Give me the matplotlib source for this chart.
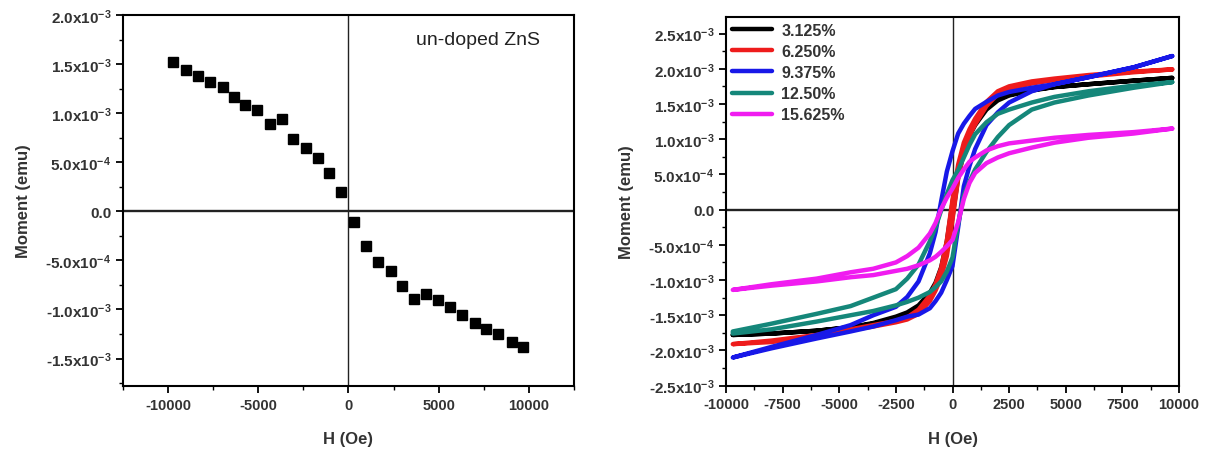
import numpy as np
import matplotlib
matplotlib.use("Agg")
import matplotlib.pyplot as plt
from matplotlib.ticker import MultipleLocator, FuncFormatter

plt.rcParams['font.family'] = ['Liberation Sans', 'DejaVu Sans']
plt.rcParams['font.weight'] = 'bold'
plt.rcParams['mathtext.default'] = 'regular'
plt.rcParams['axes.unicode_minus'] = False

# ---------------- data: un-doped ZnS (left panel) ----------------
undoped_H = [-9740, -8980, -8330, -7690, -6970, -6320, -5710, -5060, -4340, -3680,
             -3070, -2350, -1680, -1070, -390, 330, 1000, 1650, 2350, 2990,
             3620, 4310, 4990, 5640, 6280, 7000, 7650, 8300, 9040, 9680]
undoped_M = [1.523, 1.435, 1.377, 1.319, 1.265, 1.166, 1.085, 1.027, 0.891, 0.939,
             0.741, 0.646, 0.547, 0.388, 0.194, -0.109, -0.351, -0.514, -0.612, -0.765,
             -0.895, -0.844, -0.902, -0.980, -1.058, -1.140, -1.198, -1.252, -1.327, -1.378]  # x1e-3 emu

# ---------------- data: doped samples (right panel) ----------------
H_grid = [-9700, -8000, -6000, -4500, -3500, -2500, -2000, -1500, -1000, -750, -500, -250,
          0, 250, 500, 750, 1000, 1500, 2000, 2500, 3500, 4500, 6000, 8000, 9700]

labels = ['3.125%', '6.250%', '9.375%', '12.50%', '15.625%']
colors = ['#000000', '#ee1c1c', '#1818e8', '#15877a', '#f01cf0']

# descending branch (field swept from +max to -max), listed on H_grid order, x1e-3 emu
black_desc = [-1.78, -1.76, -1.72, -1.67, -1.61, -1.52, -1.46, -1.36, -1.18, -1.04, -0.82, -0.45,
              0.10, 0.58, 0.90, 1.10, 1.25, 1.46, 1.57, 1.63, 1.70, 1.74, 1.78, 1.83, 1.87]
black_asc = [-1.78, -1.76, -1.72, -1.67, -1.62, -1.54, -1.48, -1.38, -1.22, -1.08, -0.88, -0.56,
             -0.10, 0.46, 0.82, 1.05, 1.20, 1.42, 1.55, 1.62, 1.69, 1.74, 1.78, 1.83, 1.87]

red_desc = [-1.91, -1.86, -1.78, -1.70, -1.64, -1.58, -1.53, -1.42, -1.22, -1.06, -0.83, -0.44,
            0.14, 0.64, 0.95, 1.14, 1.29, 1.53, 1.68, 1.75, 1.82, 1.86, 1.91, 1.96, 1.99]
red_asc = [-1.91, -1.88, -1.80, -1.71, -1.66, -1.60, -1.56, -1.48, -1.30, -1.15, -0.96, -0.66,
           -0.14, 0.44, 0.82, 1.05, 1.21, 1.47, 1.64, 1.72, 1.79, 1.84, 1.89, 1.95, 1.99]

blue_desc = [-2.10, -1.95, -1.78, -1.64, -1.50, -1.38, -1.24, -1.02, -0.62, -0.32, 0.12, 0.54,
             0.83, 1.08, 1.22, 1.33, 1.43, 1.53, 1.62, 1.67, 1.73, 1.78, 1.88, 2.02, 2.18]
blue_asc = [-2.10, -1.97, -1.83, -1.73, -1.66, -1.57, -1.52, -1.49, -1.40, -1.30, -1.18, -1.00,
            -0.80, -0.25, 0.33, 0.62, 0.86, 1.20, 1.38, 1.52, 1.68, 1.78, 1.88, 2.02, 2.18]

teal_desc = [-1.73, -1.62, -1.48, -1.37, -1.25, -1.13, -0.98, -0.78, -0.45, -0.25, -0.01, 0.22,
             0.42, 0.56, 0.74, 0.92, 1.07, 1.24, 1.36, 1.42, 1.52, 1.60, 1.68, 1.76, 1.81]
teal_asc = [-1.76, -1.70, -1.59, -1.50, -1.44, -1.36, -1.31, -1.25, -1.17, -1.10, -1.02, -0.88,
            -0.68, -0.20, 0.20, 0.40, 0.57, 0.82, 1.03, 1.20, 1.42, 1.52, 1.62, 1.73, 1.81]

mag_desc = [-1.14, -1.06, -0.98, -0.89, -0.84, -0.75, -0.66, -0.54, -0.34, -0.19, 0.01, 0.17,
            0.30, 0.45, 0.57, 0.68, 0.74, 0.84, 0.90, 0.94, 0.98, 1.02, 1.06, 1.10, 1.15]
mag_asc = [-1.14, -1.08, -1.02, -0.96, -0.93, -0.87, -0.84, -0.79, -0.72, -0.67, -0.60, -0.52,
           -0.43, -0.18, 0.15, 0.38, 0.52, 0.66, 0.74, 0.80, 0.88, 0.95, 1.02, 1.08, 1.15]

desc_branches = [black_desc, red_desc, blue_desc, teal_desc, mag_desc]
asc_branches = [black_asc, red_asc, blue_asc, teal_asc, mag_asc]

left_yticks = [-1.5e-3, -1.0e-3, -5e-4, 0.0, 5e-4, 1.0e-3, 1.5e-3, 2.0e-3]
right_yticks = [-2.5e-3, -2.0e-3, -1.5e-3, -1.0e-3, -5e-4, 0.0, 5e-4, 1.0e-3, 1.5e-3, 2.0e-3, 2.5e-3]


def sci_fmt(v, pos=None):
    if abs(v) < 1e-12:
        return '0.0'
    e = int(np.floor(np.log10(abs(v)) + 1e-9))
    m = v / 10 ** e
    return '%.1fx10$^{%d}$' % (m, e)


fig = plt.figure(figsize=(12.08, 4.52), dpi=100)
ax1 = fig.add_axes([0.1018, 0.1438, 0.3733, 0.8208])
ax2 = fig.add_axes([0.6010, 0.1445, 0.3750, 0.8150])

for ax in (ax1, ax2):
    for sp in ax.spines.values():
        sp.set_linewidth(1.5)
    ax.axhline(0, color='#222222', lw=1.7, zorder=1)
    ax.axvline(0, color='#222222', lw=1.0, zorder=1)
    ax.tick_params(which='major', direction='out', length=5, width=1.3)
    ax.tick_params(which='minor', direction='out', length=3, width=1.0)
    ax.tick_params(axis='x', labelsize=10.5)
    ax.tick_params(axis='y', labelsize=11)
    ax.yaxis.set_major_formatter(FuncFormatter(sci_fmt))
    ax.set_xlabel('H (Oe)', fontsize=12, fontweight='bold', color='#333333', labelpad=14)
    ax.set_ylabel('Moment (emu)', fontsize=12, fontweight='bold', color='#333333', labelpad=10)

# left panel
ax1.plot(np.array(undoped_H), np.array(undoped_M) * 1e-3, 's', color='black', ms=7, zorder=3)
ax1.set_xlim(-12500, 12500)
ax1.set_ylim(-1.78e-3, 2.0e-3)
ax1.xaxis.set_major_locator(MultipleLocator(5000))
ax1.xaxis.set_minor_locator(MultipleLocator(2500))
ax1.set_yticks(left_yticks)
ax1.yaxis.set_minor_locator(MultipleLocator(2.5e-4))
ax1.text(0.925, 0.935, 'un-doped ZnS', transform=ax1.transAxes, ha='right', va='center',
         fontsize=14, fontweight='normal', color='#222222')

# right panel
Hg = np.array(H_grid)
for lab, col, d, a in zip(labels, colors, desc_branches, asc_branches):
    Hd = Hg[::-1]
    Md = np.array(d)[::-1] * 1e-3
    Ha = Hg
    Ma = np.array(a) * 1e-3
    H_all = np.concatenate([Hd, Ha])
    M_all = np.concatenate([Md, Ma])
    ax2.plot(H_all, M_all, color=col, lw=3.2, label=lab, solid_capstyle='round', zorder=3)

ax2.set_xlim(-10000, 10000)
ax2.set_ylim(-2.5e-3, 2.73e-3)
ax2.xaxis.set_major_locator(MultipleLocator(2500))
ax2.xaxis.set_minor_locator(MultipleLocator(1250))
ax2.set_yticks(right_yticks)
ax2.yaxis.set_minor_locator(MultipleLocator(2.5e-4))
leg = ax2.legend(loc='upper left', frameon=False, handlelength=2.5,
                 handletextpad=0.6, labelspacing=0.38, borderaxespad=0.1,
                 borderpad=0.25, prop={'weight': 'bold', 'size': 11.5})
for t in leg.get_texts():
    t.set_color('#333333')

for ax in (ax1, ax2):
    for lab in ax.get_xticklabels() + ax.get_yticklabels():
        lab.set_fontweight('bold')
        lab.set_color('#333333')

fig.savefig('out.png', dpi=100)
